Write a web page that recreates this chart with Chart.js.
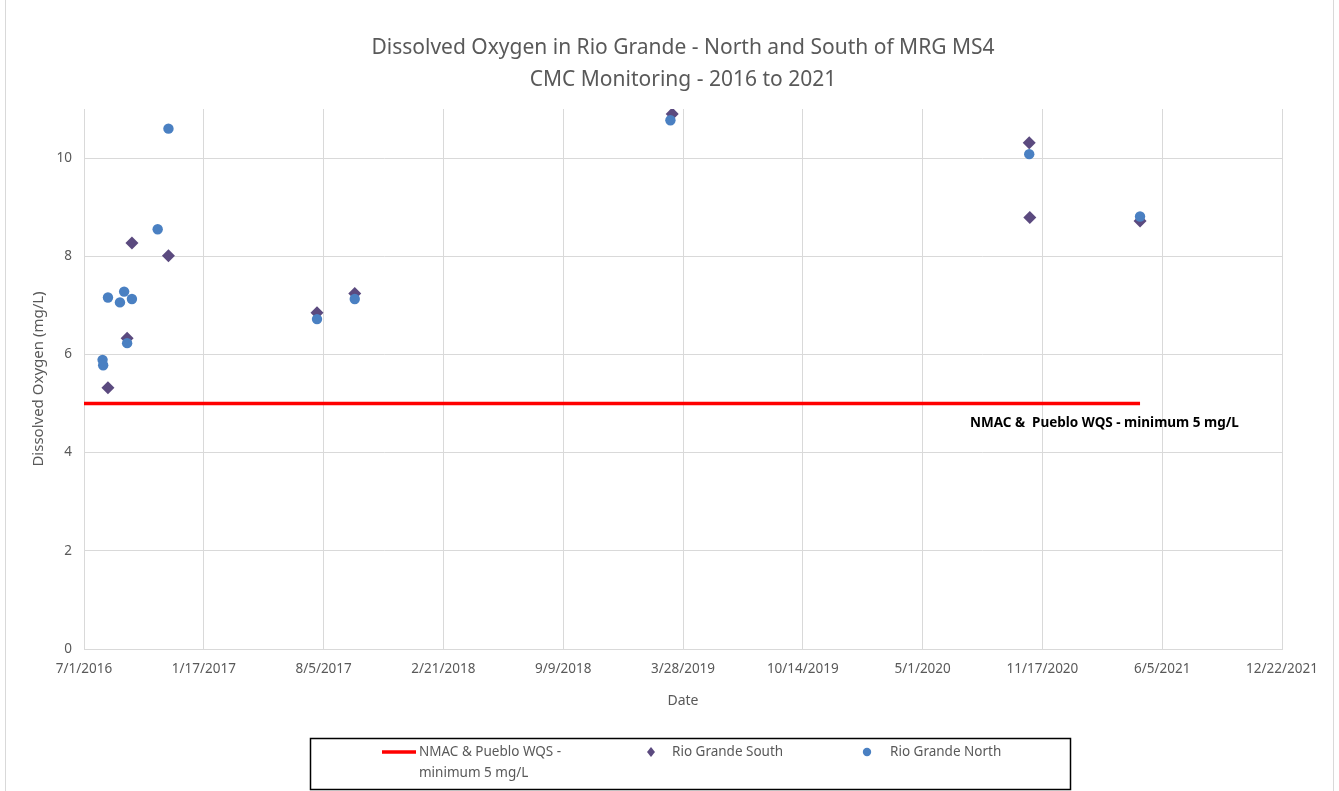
<!DOCTYPE html>
<html><head><meta charset="utf-8">
<script src="https://cdn.jsdelivr.net/npm/chart.js@4"></script>
<style>html,body{margin:0;padding:0;background:#fff}#wrap{width:1339px;height:791px;position:relative}</style>
</head><body><div id="wrap"><canvas id="c" width="1339" height="791"></canvas></div>
<script>
const titleLines = ['Dissolved Oxygen in Rio Grande - North and South of MRG MS4', 'CMC Monitoring - 2016 to 2021'];
const northDates = ['2016-08-01','2016-08-02','2016-08-10','2016-08-30','2016-09-06','2016-09-11','2016-09-19','2016-11-01','2016-11-19','2017-07-25','2017-09-26','2019-03-07','2020-10-26','2021-04-29'];
const northDO = [5.89,5.78,7.16,7.06,7.28,6.23,7.13,8.55,10.60,6.72,7.13,10.77,10.08,8.81];
const southDates = ['2016-08-10','2016-09-11','2016-09-19','2016-11-19','2017-07-25','2017-09-26','2019-03-10','2020-10-26','2020-10-27','2021-04-29'];
const southDO = [5.32,6.33,8.27,8.01,6.85,7.24,10.90,10.31,8.79,8.72];
const wqsDates = ['2016-07-01','2021-04-29'];
const wqsDO = [5,5];
const wqsLabel = 'NMAC &  Pueblo WQS - minimum 5 mg/L';
const wqsLabelDate = '2020-07-19';
const wqsLabelValue = 4.6;
const legendLabels = [['NMAC & Pueblo WQS -','minimum 5 mg/L'], ['Rio Grande South'], ['Rio Grande North']];
const xMinDate = '2016-07-01', xMaxDate = '2021-12-22', xStepDays = 200;
const yMin = 0, yMax = 11, yStep = 2;

function serial(s){const [y,m,d]=s.split('-').map(Number);return Date.UTC(y,m-1,d)/86400000+25569;}
function fmt(v){const d=new Date((v-25569)*86400000);return (d.getUTCMonth()+1)+'/'+d.getUTCDate()+'/'+d.getUTCFullYear();}
const pts=(ds,vs)=>ds.map((d,i)=>({x:serial(d),y:vs[i]}));

const FONT='"Noto Sans", "Liberation Sans", sans-serif';
const GREY='#595959';
const C_RED='#ff0000', C_SOUTH='#5b4a7f', C_NORTH='#4a80c2';

const deco={id:'deco',
 afterDraw(ch){const ctx=ch.ctx;ctx.save();
  ctx.strokeStyle='#d9d9d9';ctx.lineWidth=1;ctx.strokeRect(5.5,-2,1328,800);
  ctx.fillStyle=GREY;ctx.font='21px '+FONT;ctx.textAlign='center';ctx.textBaseline='middle';
  ctx.fillText(titleLines[0],683,48);ctx.fillText(titleLines[1],683,80);
  const xs=ch.scales.x, ys=ch.scales.y;
  ctx.fillStyle='#000';ctx.font='bold 13.5px '+FONT;ctx.textAlign='left';
  ctx.fillText(wqsLabel,xs.getPixelForValue(serial(wqsLabelDate)),ys.getPixelForValue(wqsLabelValue));
  ctx.strokeStyle='#000';ctx.lineWidth=1.5;ctx.strokeRect(310.5,738.5,760,51);
  ctx.fillStyle=GREY;ctx.font='13.5px '+FONT;ctx.textBaseline='middle';ctx.textAlign='left';
  ctx.strokeStyle=C_RED;ctx.lineWidth=3.5;ctx.beginPath();ctx.moveTo(382,752);ctx.lineTo(416,752);ctx.stroke();
  ctx.fillText(legendLabels[0][0],419,752);ctx.fillText(legendLabels[0][1],419,773);
  ctx.fillStyle=C_SOUTH;ctx.beginPath();ctx.moveTo(651,747);ctx.lineTo(655,752);ctx.lineTo(651,757);ctx.lineTo(647,752);ctx.closePath();ctx.fill();
  ctx.fillStyle=GREY;ctx.fillText(legendLabels[1][0],672,752);
  ctx.fillStyle=C_NORTH;ctx.beginPath();ctx.arc(867,752,4.2,0,Math.PI*2);ctx.fill();
  ctx.fillStyle=GREY;ctx.fillText(legendLabels[2][0],890,752);
  ctx.restore();}
};

new Chart(document.getElementById('c'),{
 type:'scatter',
 data:{datasets:[
  {label:legendLabels[0].join(' '),type:'line',data:pts(wqsDates,wqsDO),borderColor:C_RED,borderWidth:3.5,pointRadius:0,order:3},
  {label:legendLabels[1][0],data:pts(southDates,southDO),pointStyle:'rectRot',pointRadius:6.5,backgroundColor:C_SOUTH,borderColor:C_SOUTH,borderWidth:0,order:2},
  {label:legendLabels[2][0],data:pts(northDates,northDO),pointStyle:'circle',pointRadius:5.2,backgroundColor:C_NORTH,borderColor:C_NORTH,borderWidth:0,order:1}
 ]},
 options:{responsive:false,animation:false,
  layout:{padding:{left:30,right:57,top:109,bottom:78}},
  plugins:{legend:{display:false},title:{display:false},tooltip:{enabled:false}},
  scales:{
   x:{type:'linear',min:serial(xMinDate),max:serial(xMaxDate),
      ticks:{stepSize:xStepDays,callback:v=>fmt(v),color:GREY,font:{family:FONT,size:13.5},maxRotation:0,autoSkip:false,padding:12},
      grid:{color:'#d9d9d9',lineWidth:1,drawTicks:false},border:{color:'#d9d9d9'},
      title:{display:true,text:'Date',color:GREY,font:{family:FONT,size:14},padding:{top:4}},
      afterFit(s){s.height=64;}},
   y:{min:yMin,max:yMax,
      afterBuildTicks(s){s.ticks=s.ticks.filter(t=>t.value%yStep===0);},
      ticks:{stepSize:yStep,color:GREY,font:{family:FONT,size:13.5},padding:12},
      grid:{color:'#d9d9d9',lineWidth:1,drawTicks:false},border:{color:'#d9d9d9'},
      title:{display:true,text:'Dissolved Oxygen (mg/L)',color:GREY,font:{family:FONT,size:15},padding:{top:0,bottom:0}},
      afterFit(s){s.width=54;}}
  }},
 plugins:[deco]
});
</script></body></html>
